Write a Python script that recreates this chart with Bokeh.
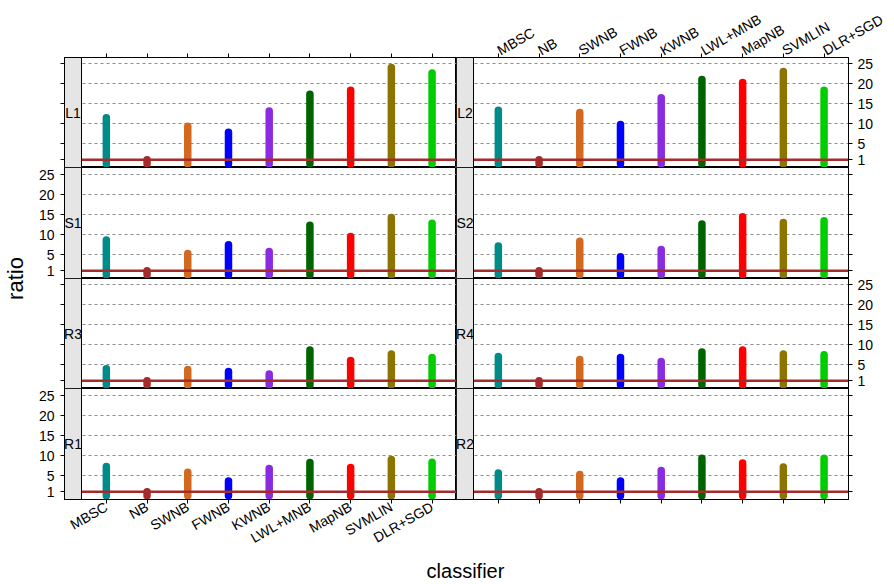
import math
from bokeh.plotting import figure
from bokeh.layouts import gridplot, row, column
from bokeh.models import Range1d, FixedTicker, LinearAxis, Label, Grid
from bokeh.core.properties import value
from bokeh.embed import file_html
from bokeh.resources import INLINE

# ---------------- data ----------------
categories = ["MBSC", "NB", "SWNB", "FWNB", "KWNB", "LWL+MNB", "MapNB", "SVMLIN", "DLR+SGD"]
colors = ["#008B8B", "#A52A2A", "#D2691E", "#0000FF", "#8A2BE2",
          "#006400", "#FF0000", "#8B7500", "#00CD00"]

panel_names = ["L1", "L2", "S1", "S2", "R3", "R4", "R1", "R2"]
L1 = [11.5, 1.0, 9.4, 7.9, 13.2, 17.4, 18.4, 24.1, 22.7]
L2 = [13.4, 1.0, 12.8, 9.8, 16.5, 21.1, 20.3, 23.1, 18.4]
S1 = [8.7, 1.0, 5.3, 7.5, 5.8, 12.4, 9.6, 14.3, 12.9]
S2 = [7.2, 1.0, 8.4, 4.5, 6.3, 12.7, 14.5, 13.1, 13.5]
R3 = [4.0, 1.0, 3.8, 3.3, 2.7, 8.7, 6.1, 7.7, 6.8]
R4 = [7.1, 1.0, 6.3, 6.8, 5.8, 8.2, 8.7, 7.7, 7.5]
R1 = [7.3, 1.0, 5.9, 3.7, 6.8, 8.3, 7.1, 9.1, 8.4]
R2 = [5.7, 1.0, 5.3, 3.7, 6.3, 9.4, 8.2, 7.2, 9.4]
panel_values = [L1, L2, S1, S2, R3, R4, R1, R2]

y_ticks = [1, 5, 10, 15, 20, 25]
grid_ticks = [5, 10, 15, 20, 25]
baseline = 1
x_label = "classifier"
y_label = "ratio"

# ---------------- geometry / style ----------------
FONT = "Liberation Sans"
Y_TICK_FS = "14px"
X_TICK_FS = "14px"
FRAME_W, STRIP_W = 392, 17
ROW_H = [110, 111, 110, 111]
X_LO_PANEL, X_HI = 0.39, 9.6
PX_PER_UNIT = (FRAME_W - STRIP_W) / (X_HI - X_LO_PANEL)
X_LO = X_LO_PANEL - STRIP_W / PX_PER_UNIT
Y_LO = -0.92
PX_PER_Y = 4.0

YLAB_W, LEFT_B, RIGHT_B = 30, 34, 46
TOP_B, BOT_B, XLAB_H = 57, 57, 28
TOTAL_W = YLAB_W + LEFT_B + 2 * FRAME_W + RIGHT_B
GRID_H = TOP_B + sum(ROW_H) + BOT_B

xs = list(range(1, len(categories) + 1))


def style_axis(ax, ticks, labels, fs):
    ax.ticker = FixedTicker(ticks=ticks)
    ax.major_tick_out = 4
    ax.major_tick_in = 0
    ax.minor_tick_line_color = None
    ax.axis_line_color = "black"
    ax.major_tick_line_color = "black"
    ax.major_label_text_font = FONT
    ax.major_label_text_font_size = fs
    ax.major_label_text_color = "black"
    ax.major_label_standoff = 4
    if labels is None:
        ax.major_label_overrides = {t: "" for t in ticks}
    else:
        ax.major_label_overrides = {t: l for t, l in zip(ticks, labels)}


def make_panel(r, c, name, vals):
    fh = ROW_H[r]
    y_hi = Y_LO + fh / PX_PER_Y
    p = figure(frame_width=FRAME_W, frame_height=fh,
               x_range=Range1d(X_LO, X_HI), y_range=Range1d(Y_LO, y_hi),
               toolbar_location=None, output_backend="svg",
               x_axis_location=None, y_axis_location=None,
               min_border_left=LEFT_B if c == 0 else 0,
               min_border_right=RIGHT_B if c == 1 else 0,
               min_border_top=TOP_B if r == 0 else 0,
               min_border_bottom=BOT_B if r == 3 else 0)
    p.outline_line_color = "black"
    p.outline_line_width = 1
    p.background_fill_color = "white"
    p.border_fill_color = "white"
    for g in list(p.grid):
        g.visible = False

    p.add_layout(Grid(dimension=1, ticker=FixedTicker(ticks=grid_ticks),
                      grid_line_color="#8c8c8c", grid_line_dash="3 3",
                      grid_line_width=1))

    # bars
    p.segment(x0=xs, y0=[0] * len(xs), x1=xs, y1=vals, line_color=colors,
              line_width=7.5, line_cap="round")
    # baseline
    p.segment(x0=[X_LO_PANEL], x1=[X_HI], y0=[baseline], y1=[baseline],
              line_color="#A52A2A", line_width=2.5)
    # strip
    p.quad(left=[X_LO], right=[X_LO_PANEL], bottom=[Y_LO], top=[y_hi],
           fill_color="#E5E5E5", line_color="black", line_width=1)
    p.text(x=[(X_LO + X_LO_PANEL) / 2], y=[(Y_LO + y_hi) / 2], text=[name],
           text_align="center", text_baseline="middle",
           text_font=value(FONT), text_font_size="14px", text_color="black")

    if c == 0:
        ax = LinearAxis()
        style_axis(ax, y_ticks, [str(t) for t in y_ticks] if r in (1, 3) else None, Y_TICK_FS)
        ax.major_label_standoff = 6
        p.add_layout(ax, "left")
    else:
        ax = LinearAxis()
        style_axis(ax, y_ticks, [str(t) for t in y_ticks] if r in (0, 2) else None, Y_TICK_FS)
        ax.major_label_standoff = 5
        p.add_layout(ax, "right")
    if r == 0:
        ax = LinearAxis()
        style_axis(ax, xs, categories if c == 1 else None, X_TICK_FS)
        ax.major_label_orientation = math.pi / 6
        ax.major_label_standoff = 2
        p.add_layout(ax, "above")
    if r == 3:
        ax = LinearAxis()
        style_axis(ax, xs, categories if c == 0 else None, X_TICK_FS)
        ax.major_label_orientation = math.pi / 6
        ax.major_label_standoff = 2
        p.add_layout(ax, "below")
    return p


panels = [make_panel(i // 2, i % 2, n, v)
          for i, (n, v) in enumerate(zip(panel_names, panel_values))]
grid = gridplot([panels[0:2], panels[2:4], panels[4:6], panels[6:8]],
                toolbar_location=None)

# y axis title
ylab = figure(width=YLAB_W, height=GRID_H, x_range=Range1d(0, YLAB_W),
              y_range=Range1d(0, GRID_H), toolbar_location=None,
              output_backend="svg", x_axis_location=None, y_axis_location=None,
              min_border=0, outline_line_color=None)
for g in list(ylab.grid):
    g.visible = False
ylab.add_layout(Label(x=15, y=GRID_H - 278, text=y_label,
                      angle=math.pi / 2, text_align="center",
                      text_baseline="middle", text_font=FONT,
                      text_font_size="22px", text_color="black"))

# x axis title
xlab = figure(width=TOTAL_W, height=XLAB_H, x_range=Range1d(0, TOTAL_W),
              y_range=Range1d(0, XLAB_H), toolbar_location=None,
              output_backend="svg", x_axis_location=None, y_axis_location=None,
              min_border=0, outline_line_color=None)
for g in list(xlab.grid):
    g.visible = False
xlab.add_layout(Label(x=465, y=14, text=x_label,
                      text_align="center", text_baseline="middle",
                      text_font=FONT, text_font_size="20px", text_color="black"))

layout = column(row(ylab, grid), xlab)

open("out.html", "w").write(file_html(layout, INLINE))
